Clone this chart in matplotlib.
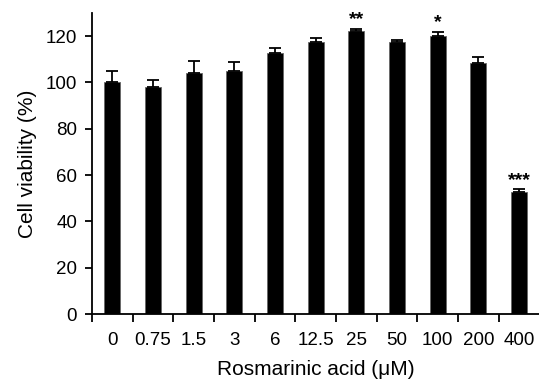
import matplotlib
matplotlib.use("Agg")
import matplotlib.pyplot as plt
import numpy as np

plt.rcParams.update({
    "font.family": ["Liberation Sans", "DejaVu Sans"],
})

CONCENTRATIONS = ["0", "0.75", "1.5", "3", "6", "12.5", "25", "50", "100", "200", "400"]
VIABILITY = [100.0, 98.1, 104.2, 105.0, 112.8, 117.7, 122.2, 117.3, 119.9, 108.3, 52.6]
ERROR_UP = [5.0, 2.9, 4.9, 3.7, 2.2, 1.7, 1.0, 1.1, 1.8, 2.7, 1.2]
SIGNIF = ["", "", "", "", "", "", "**", "", "*", "", "***"]


def plot():
    fig = plt.figure(figsize=(5.39, 3.83), dpi=100)
    ax = fig.add_axes([0.1707, 0.18, 0.83, 0.786])

    x = np.arange(len(CONCENTRATIONS))
    vals = np.array(VIABILITY)
    errs = np.array(ERROR_UP)

    ax.bar(x, vals, width=0.39, color="black", edgecolor="#666666",
           linewidth=0.6, zorder=2)
    ax.errorbar(x, vals, yerr=[np.zeros_like(errs), errs], fmt="none",
                ecolor="black", elinewidth=1.3, capsize=4, capthick=1.3,
                zorder=3)

    for xi, v, e, s in zip(x, vals, errs, SIGNIF):
        if s:
            ax.text(xi, v + e + 4.0, s, ha="center", va="center",
                    fontsize=14, fontweight="bold")

    ax.set_xlim(-0.5, 10.5)
    ax.set_ylim(0, 130)
    ax.set_yticks([0, 20, 40, 60, 80, 100, 120])

    ax.set_xticks(x)
    ax.set_xticklabels(CONCENTRATIONS)
    ax.set_xticks(np.arange(-0.5, 10.0, 1.0), minor=True)
    ax.tick_params(axis="x", which="major", length=0, pad=13, labelsize=13.5)
    ax.tick_params(axis="x", which="minor", length=6, width=1.3, direction="out")
    ax.tick_params(axis="y", length=5.3, width=1.3, direction="out", pad=5.5,
                   labelsize=13.5)

    for side in ("top", "right"):
        ax.spines[side].set_visible(False)
    for side in ("left", "bottom"):
        ax.spines[side].set_linewidth(1.3)

    ax.set_ylabel("Cell viability (%)", fontsize=15, labelpad=6)
    ax.set_xlabel("Rosmarinic acid (\u03bcM)", fontsize=15, labelpad=8)

    fig.savefig("out.png", dpi=100)
    plt.close(fig)


if __name__ == "__main__":
    plot()
